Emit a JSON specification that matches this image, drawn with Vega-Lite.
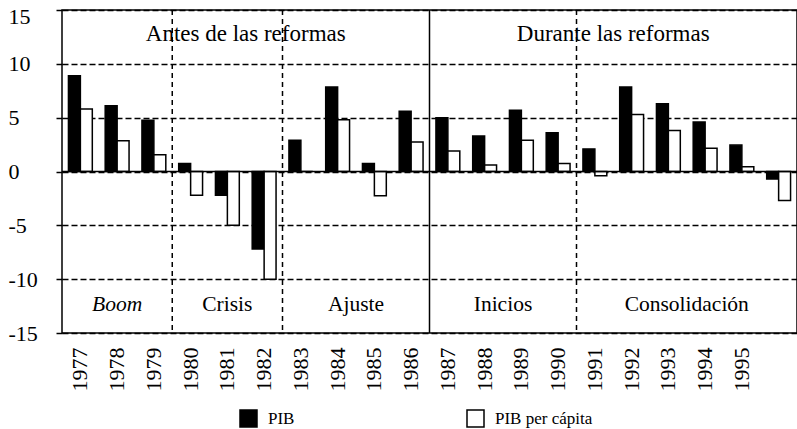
{
  "$schema": "https://vega.github.io/schema/vega-lite/v6.json",
  "width": 735,
  "height": 323,
  "autosize": {"type": "none"},
  "padding": {"left": 62, "top": 10, "right": 0, "bottom": 96},
  "background": "white",
  "config": {
    "view": {"stroke": "black", "strokeWidth": 1.5},
    "font": "Liberation Serif"
  },
  "datasets": {
    "crec": [
      {"anio": "1977", "serie": "PIB", "valor": 8.9},
      {"anio": "1977", "serie": "PIB per cápita", "valor": 5.8},
      {"anio": "1978", "serie": "PIB", "valor": 6.1},
      {"anio": "1978", "serie": "PIB per cápita", "valor": 2.85},
      {"anio": "1979", "serie": "PIB", "valor": 4.75},
      {"anio": "1979", "serie": "PIB per cápita", "valor": 1.55},
      {"anio": "1980", "serie": "PIB", "valor": 0.75},
      {"anio": "1980", "serie": "PIB per cápita", "valor": -2.2},
      {"anio": "1981", "serie": "PIB", "valor": -2.2},
      {"anio": "1981", "serie": "PIB per cápita", "valor": -5.0},
      {"anio": "1982", "serie": "PIB", "valor": -7.2},
      {"anio": "1982", "serie": "PIB per cápita", "valor": -10.0},
      {"anio": "1983", "serie": "PIB", "valor": 2.9},
      {"anio": "1983", "serie": "PIB per cápita", "valor": 0.0},
      {"anio": "1984", "serie": "PIB", "valor": 7.85},
      {"anio": "1984", "serie": "PIB per cápita", "valor": 4.8},
      {"anio": "1985", "serie": "PIB", "valor": 0.75},
      {"anio": "1985", "serie": "PIB per cápita", "valor": -2.25},
      {"anio": "1986", "serie": "PIB", "valor": 5.6},
      {"anio": "1986", "serie": "PIB per cápita", "valor": 2.75},
      {"anio": "1987", "serie": "PIB", "valor": 5.0},
      {"anio": "1987", "serie": "PIB per cápita", "valor": 1.9},
      {"anio": "1988", "serie": "PIB", "valor": 3.3},
      {"anio": "1988", "serie": "PIB per cápita", "valor": 0.6},
      {"anio": "1989", "serie": "PIB", "valor": 5.7},
      {"anio": "1989", "serie": "PIB per cápita", "valor": 2.9},
      {"anio": "1990", "serie": "PIB", "valor": 3.6},
      {"anio": "1990", "serie": "PIB per cápita", "valor": 0.75},
      {"anio": "1991", "serie": "PIB", "valor": 2.1},
      {"anio": "1991", "serie": "PIB per cápita", "valor": -0.4},
      {"anio": "1992", "serie": "PIB", "valor": 7.85},
      {"anio": "1992", "serie": "PIB per cápita", "valor": 5.3},
      {"anio": "1993", "serie": "PIB", "valor": 6.3},
      {"anio": "1993", "serie": "PIB per cápita", "valor": 3.8},
      {"anio": "1994", "serie": "PIB", "valor": 4.6},
      {"anio": "1994", "serie": "PIB per cápita", "valor": 2.15},
      {"anio": "1995", "serie": "PIB", "valor": 2.45},
      {"anio": "1995", "serie": "PIB per cápita", "valor": 0.45},
      {"anio": "1996", "serie": "PIB", "valor": -0.7},
      {"anio": "1996", "serie": "PIB per cápita", "valor": -2.7}
    ],
    "separadores": [
      {"anio": "1980", "tipo": "discontinua"},
      {"anio": "1983", "tipo": "discontinua"},
      {"anio": "1987", "tipo": "continua"},
      {"anio": "1991", "tipo": "discontinua"}
    ],
    "periodos": [
      {"texto": "Antes de las reformas", "anio": "1982", "fila": "etapa"},
      {"texto": "Durante las reformas", "anio": "1992", "fila": "etapa"},
      {"texto": "Boom", "anio": "1978", "fila": "fase"},
      {"texto": "Crisis", "anio": "1981", "fila": "fase"},
      {"texto": "Ajuste", "anio": "1985", "fila": "fase"},
      {"texto": "Inicios", "anio": "1989", "fila": "fase"},
      {"texto": "Consolidación", "anio": "1994", "fila": "fase"}
    ],
    "cero": [{"valor": 0}]
  },
  "layer": [
    {
      "data": {"name": "crec"},
      "mark": {"type": "bar", "stroke": "black", "strokeWidth": 1.5, "clip": true},
      "encoding": {
        "x": {
          "field": "anio",
          "type": "ordinal",
          "scale": {"paddingInner": 0, "paddingOuter": 0},
          "axis": {
            "title": null,
            "labelAngle": -90,
            "labelFont": "Liberation Serif",
            "labelFontSize": 22,
            "labelColor": "black",
            "ticks": false,
            "domain": false,
            "labelPadding": 14,
            "labelExpr": "datum.value == '1996' ? '' : datum.label"
          }
        },
        "xOffset": {
          "field": "serie",
          "type": "nominal",
          "sort": ["PIB", "PIB per cápita"],
          "scale": {"paddingInner": 0, "paddingOuter": 0.54}
        },
        "y": {
          "field": "valor",
          "type": "quantitative",
          "scale": {"domain": [-15, 15], "nice": false, "zero": false},
          "axis": {
            "title": null,
            "values": [-15, -10, -5, 0, 5, 10, 15],
            "labelExpr": "datum.value < 0 ? '-' + abs(datum.value) : '' + datum.value",
            "labelFont": "Liberation Serif",
            "labelFontSize": 22,
            "labelColor": "black",
            "labelAlign": "left",
            "labelPadding": 48,
            "labelOffset": {"condition": {"test": "datum.value == 15", "value": 6}, "value": 0},
            "tickSize": 6,
            "tickColor": "black",
            "tickWidth": 1.5,
            "domain": false,
            "grid": true,
            "gridColor": "black",
            "gridWidth": 1.5,
            "gridDash": [6, 3],
            "gridOpacity": 1
          }
        },
        "color": {
          "field": "serie",
          "type": "nominal",
          "scale": {"domain": ["PIB", "PIB per cápita"], "range": ["black", "white"]},
          "legend": {
            "title": null,
            "orient": "none",
            "legendX": 177,
            "legendY": 399,
            "direction": "horizontal",
            "symbolType": "square",
            "symbolSize": 289,
            "symbolStrokeColor": "black",
            "symbolStrokeWidth": 1.5,
            "labelFont": "Liberation Serif",
            "labelFontSize": 17,
            "labelColor": "black",
            "labelOffset": 10,
            "columnPadding": 169
          }
        }
      }
    },
    {
      "data": {"name": "cero"},
      "mark": {"type": "rule", "color": "black", "strokeWidth": 1.5},
      "encoding": {"y": {"field": "valor", "type": "quantitative"}}
    },
    {
      "data": {"name": "periodos"},
      "transform": [{"filter": "datum.fila == 'etapa'"}],
      "mark": {"type": "text", "font": "Liberation Serif", "fontSize": 23, "color": "black", "baseline": "middle"},
      "encoding": {
        "x": {"field": "anio", "type": "ordinal", "bandPosition": 0},
        "y": {"datum": 12.8},
        "text": {"field": "texto"}
      }
    },
    {
      "data": {"name": "periodos"},
      "transform": [{"filter": "datum.texto == 'Boom'"}],
      "mark": {"type": "text", "font": "Liberation Serif", "fontSize": 21.5, "fontStyle": "italic", "color": "black", "baseline": "middle"},
      "encoding": {
        "x": {"field": "anio", "type": "ordinal", "bandPosition": 0.5},
        "y": {"datum": -12.4},
        "text": {"field": "texto"}
      }
    },
    {
      "data": {"name": "periodos"},
      "transform": [{"filter": "datum.texto == 'Crisis'"}],
      "mark": {"type": "text", "font": "Liberation Serif", "fontSize": 21.5, "color": "black", "baseline": "middle"},
      "encoding": {
        "x": {"field": "anio", "type": "ordinal", "bandPosition": 0.5},
        "y": {"datum": -12.4},
        "text": {"field": "texto"}
      }
    },
    {
      "data": {"name": "periodos"},
      "transform": [{"filter": "datum.fila == 'fase' && datum.texto != 'Boom' && datum.texto != 'Crisis'"}],
      "mark": {"type": "text", "font": "Liberation Serif", "fontSize": 21.5, "color": "black", "baseline": "middle"},
      "encoding": {
        "x": {"field": "anio", "type": "ordinal", "bandPosition": 0},
        "y": {"datum": -12.4},
        "text": {"field": "texto"}
      }
    },
    {
      "data": {"name": "separadores"},
      "mark": {"type": "rule", "color": "black", "strokeWidth": 1.5},
      "encoding": {
        "x": {"field": "anio", "type": "ordinal", "bandPosition": 0},
        "strokeDash": {
          "field": "tipo",
          "type": "nominal",
          "scale": {"domain": ["continua", "discontinua"], "range": [[1, 0], [5, 4]]},
          "legend": null
        }
      }
    }
  ]
}
